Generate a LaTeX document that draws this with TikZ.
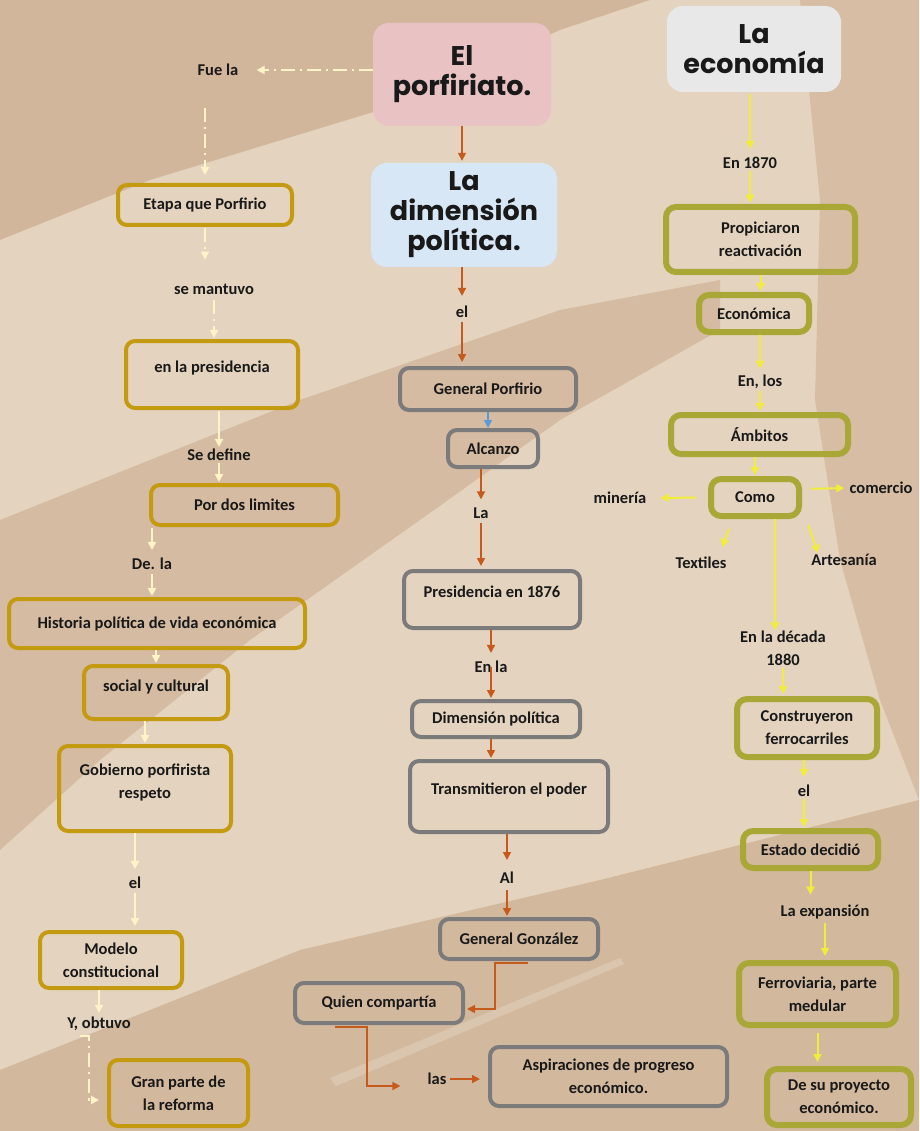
\documentclass[tikz,border=0pt]{standalone}
\usepackage{fontspec}
\setmainfont{Carlito}
\newfontfamily\titlefont{Poppins}
\usetikzlibrary{arrows.meta}
\definecolor{bgbase}{HTML}{E4D4BF}
\definecolor{bgdark}{HTML}{C5A384}
\definecolor{bgmid}{HTML}{D3B99C}
\definecolor{goldc}{HTML}{C49A10}
\definecolor{grayc}{HTML}{7B7B7B}
\definecolor{olivec}{HTML}{A9A735}
\definecolor{yarr}{HTML}{F2EC3A}
\definecolor{carr}{HTML}{FFF3C8}
\definecolor{oarr}{HTML}{C65A1C}
\definecolor{barr}{HTML}{5B9BD5}
\definecolor{pinkc}{HTML}{E9C3C3}
\definecolor{bluec}{HTML}{D8E7F5}
\definecolor{marble}{HTML}{E8E8E8}
\tikzset{
  every node/.style={font=\fontsize{16.5}{23}\selectfont\bfseries, text=black!90, align=center},
  gbox/.style={draw=goldc, line width=4pt, rounded corners=9pt, inner sep=0pt},
  ybox/.style={draw=grayc, line width=4pt, rounded corners=9pt, inner sep=0pt},
  obox/.style={draw=olivec, line width=6pt, rounded corners=10pt, inner sep=0pt},
  tbox/.style={rounded corners=16pt, inner sep=0pt, font=\titlefont\fontsize{27}{30}\selectfont\bfseries},
  lbl/.style={inner sep=2pt},
  raise/.style={text depth=#1},
  tip/.style={-{Triangle[length=8pt,width=8pt]}},
  ca/.style={tip, draw=carr, line width=2pt},
  cad/.style={ca, dash pattern=on 14pt off 5pt on 2pt off 5pt},
  oa/.style={tip, draw=oarr, line width=1.6pt},
  ba/.style={tip, draw=barr, line width=1.6pt},
  ya/.style={tip, draw=yarr, line width=2pt},
}
\begin{document}
\begin{tikzpicture}[x=1pt,y=-1pt]
% background
\fill[bgbase] (0,0) rectangle (919,1131);
\useasboundingbox (0,0) rectangle (919,1131);
\fill[bgdark, opacity=0.6] (0,0) -- (650,0) -- (560,30) -- (380,110) -- (150,180) -- (0,240) -- cycle;
\fill[bgdark, opacity=0.5] (0,520) -- (300,400) -- (560,310) -- (720,280) -- (720,330) -- (560,420) -- (420,520) -- (250,640) -- (100,760) -- (0,850) -- cycle;
\fill[bgdark, opacity=0.55] (0,1070) -- (300,950) -- (600,880) -- (919,800) -- (919,1131) -- (0,1131) -- cycle;
\fill[white, opacity=0.18] (330,1078) -- (620,958) -- (624,964) -- (336,1086) -- cycle;
\fill[bgdark, opacity=0.45] (800,0) -- (919,0) -- (919,800) -- (880,700) -- (840,560) -- (815,400) -- (820,200) -- (810,100) -- cycle;

% title boxes
\node[tbox, fill=pinkc, minimum width=178pt, minimum height=103pt] (porf) at (462,74.5) {El\\porfiriato.};
\node[tbox, fill=bluec, minimum width=186pt, minimum height=104pt] (dim) at (464,215) {La\\dimensión\\política.};
\node[tbox, fill=marble, minimum width=174pt, minimum height=86pt] (econT) at (754,49) {La\\economía};

% left column
\node[lbl] (fuela) at (218,70) {Fue la};
\node[gbox, minimum width=174pt, minimum height=40pt] (etapa) at (205,205) {Etapa que Porfirio};
\node[lbl] (mantuvo) at (214,289) {se mantuvo};
\node[gbox, raise=16pt, minimum width=172pt, minimum height=67pt] (presid) at (212,374.5) {en la presidencia};
\node[lbl] (define) at (219,455) {Se define};
\node[gbox, minimum width=187pt, minimum height=40pt] (limites) at (244.5,505) {Por dos limites};
\node[lbl] (dela) at (152,564) {De. la};
\node[gbox, minimum width=296pt, minimum height=49pt] (historia) at (157,623.5) {Historia política de vida económica};
\node[gbox, raise=14pt, minimum width=144pt, minimum height=53pt] (social) at (156,692.5) {social y cultural};
\node[gbox, raise=14pt, minimum width=172pt, minimum height=85pt] (gobierno) at (145,788.5) {Gobierno porfirista\\respeto};
\node[lbl] (el1) at (135,883) {el};
\node[gbox, minimum width=142pt, minimum height=56pt] (modelo) at (111,960) {Modelo\\constitucional};
\node[lbl] (obtuvo) at (99,1024) {Y, obtuvo};
\node[gbox, minimum width=139pt, minimum height=66pt] (gran) at (178.5,1093) {Gran parte de\\la reforma};

% middle column
\node[lbl] (elm) at (462,312) {el};
\node[ybox, minimum width=176pt, minimum height=42pt] (gporf) at (488,389) {General Porfirio};
\node[ybox, minimum width=90pt, minimum height=37pt] (alcanzo) at (493,448.5) {Alcanzo};
\node[lbl] (lam) at (481,513) {La};
\node[ybox, raise=16pt, minimum width=176pt, minimum height=57pt] (pres1876) at (492,599.5) {Presidencia en 1876};
\node[lbl] (enla) at (491,667) {En la};
\node[ybox, minimum width=168pt, minimum height=36pt] (dimpol) at (496,719) {Dimensión política};
\node[ybox, raise=15pt, minimum width=198pt, minimum height=71pt] (transm) at (509,796.5) {Transmitieron el poder};
\node[lbl] (al) at (507,878) {Al};
\node[ybox, minimum width=158pt, minimum height=40pt] (gonz) at (519,939) {General González};
\node[ybox, minimum width=168pt, minimum height=40pt] (quien) at (379,1003) {Quien compartía};
\node[lbl] (las) at (437,1079) {las};
\node[ybox, minimum width=237pt, minimum height=59pt] (aspir) at (608.5,1076.5) {Aspiraciones de progreso\\económico.};

% right column
\node[lbl] (en1870) at (750,163) {En 1870};
\node[obox, minimum width=189pt, minimum height=65pt] (propic) at (760.5,239.5) {Propiciaron\\reactivación};
\node[obox, minimum width=110pt, minimum height=37pt] (econ) at (754,313.5) {Económica};
\node[lbl] (enlos) at (760,382) {En, los};
\node[obox, minimum width=177pt, minimum height=39pt] (ambitos) at (759.5,434.5) {Ámbitos};
\node[obox, minimum width=88pt, minimum height=37pt] (como) at (755,497.5) {Como};
\node[lbl] (mineria) at (620,498) {minería};
\node[lbl] (comercio) at (881,488) {comercio};
\node[lbl] (textiles) at (701,563) {Textiles};
\node[lbl] (artesania) at (844,560) {Artesanía};
\node[lbl] (decada) at (783,648) {En la década\\1880};
\node[obox, minimum width=140pt, minimum height=58pt] (constr) at (807,728) {Construyeron\\ferrocarriles};
\node[lbl] (elr) at (804,791) {el};
\node[obox, minimum width=135pt, minimum height=37pt] (estado) at (810.5,849.5) {Estado decidió};
\node[lbl] (expansion) at (825,912) {La expansión};
\node[obox, minimum width=157pt, minimum height=62pt] (ferro) at (817.5,994) {Ferroviaria, parte\\medular};
\node[obox, minimum width=144pt, minimum height=56pt] (desu) at (839,1097) {De su proyecto\\económico.};
\coordinate (dcx) at (775,0);

% left arrows
\draw[cad, shorten >=16pt] (porf.west |- fuela) -- (fuela.east);
\draw[cad, shorten <=30pt, shorten >=8pt] (fuela.south -| etapa) -- (etapa.north);
\draw[cad, shorten <=1pt, shorten >=22pt] (etapa.south) -- (etapa.south |- mantuvo.north);
\draw[cad, shorten <=4pt, shorten >=1pt] (mantuvo.south) -- (mantuvo.south |- presid.north);
\draw[ca, shorten <=1pt, shorten >=0pt] (presid.south -| define) -- (define.north);
\draw[ca, shorten >=1pt] (define.south) -- (define.south |- limites.north);
\draw[ca, shorten <=1pt, shorten >=6pt] (limites.south -| dela) -- (dela.north);
\draw[ca, shorten <=2pt, shorten >=1pt] (dela.south) -- (dela.south |- historia.north);
\draw[ca, shorten >=1pt] (historia.south -| social) -- (social.north);
\draw[ca, shorten >=1pt] (social.south -| gobierno) -- (gobierno.north);
\draw[ca, shorten >=6pt] (gobierno.south -| el1) -- (el1.north);
\draw[ca, shorten <=2pt, shorten >=4pt] (el1.south) -- (el1.south |- modelo.north);
\draw[ca, shorten >=2pt] (modelo.south -| obtuvo) -- (obtuvo.north);
\draw[cad, shorten >=8pt] ([xshift=-19pt,yshift=-3pt]obtuvo.south) -- ++(9,0) |- ([yshift=-7pt]gran.west);

% middle arrows
\draw[oa, shorten >=2pt] (porf.south) -- (porf.south |- dim.north);
\draw[oa, shorten >=8pt] (dim.south -| elm) -- (elm.north);
\draw[oa, shorten <=2pt, shorten >=4pt] (elm.south) -- (elm.south |- gporf.north);
\draw[ba] (gporf.south) -- (gporf.south |- alcanzo.north);
\draw[oa, shorten >=6pt] (alcanzo.south -| lam) -- (lam.north);
\draw[oa, shorten <=2pt, shorten >=3pt] (lam.south) -- (lam.south |- pres1876.north);
\draw[oa, shorten >=6pt] (pres1876.south -| enla) -- (enla.north);
\draw[oa, shorten <=-8pt, shorten >=1pt] (enla.south) -- (enla.south |- dimpol.north);
\draw[oa, shorten >=1pt] (dimpol.south -| enla) -- (enla |- transm.north);
\draw[oa, shorten >=10pt] (transm.south -| al) -- (al.north);
\draw[oa, shorten <=4pt, shorten >=1pt] (al.south) -- (al.south |- gonz.north);
\draw[oa, shorten >=1pt] ([xshift=9pt,yshift=-2pt]gonz.south) -- ++(-33,0) |- ([yshift=-6pt,xshift=1pt]quien.east);
\draw[oa, shorten >=25pt] ([xshift=-44pt,yshift=-2pt]quien.south) -- ++(32,0) |- ([yshift=-7pt]las.west);
\draw[oa, shorten <=1pt, shorten >=8pt] (las.east) -- (las.east -| aspir.west);

% right arrows
\draw[ya, shorten <=2pt, shorten >=6pt] (econT.south -| en1870) -- (en1870.north);
\draw[ya, shorten >=1pt] (en1870.south) -- (en1870.south |- propic.north);
\draw[ya, shorten >=1pt] (propic.south) -- (propic.south |- econ.north);
\draw[ya, shorten >=4pt] (econ.south -| enlos) -- (enlos.north);
\draw[ya, shorten >=1pt] (enlos.south) -- (enlos.south |- ambitos.north);
\draw[ya, shorten >=1pt] (ambitos.south -| como) -- (como.north);
\draw[ya, shorten <=12pt, shorten >=12pt] (como.west) -- (mineria.east);
\draw[ya, shorten <=9pt, shorten >=3pt] ([yshift=8.5pt]como.east) -- (comercio.west);
\draw[ya] ([xshift=-26pt,yshift=-10pt]como.south) -- ++(-7,18);
\draw[ya] ([xshift=53pt,yshift=-6pt]como.south) -- ++(10,28);
\draw[ya, shorten >=-2pt] (como.south -| dcx) -- (decada.north -| dcx);
\draw[ya, shorten >=2pt] (decada.south) -- (decada.south |- constr.north);
\draw[ya, shorten >=6pt] (constr.south -| elr) -- (elr.north);
\draw[ya, shorten >=1pt] (elr.south) -- (elr.south |- estado.north);
\draw[ya, shorten >=8pt] (estado.south) -- (estado.south |- expansion.north);
\draw[ya, shorten <=2pt, shorten >=4pt] (expansion.south) -- (expansion.south |- ferro.north);
\draw[ya, shorten <=5pt, shorten >=4pt] (ferro.south) -- (ferro.south |- desu.north);
\end{tikzpicture}
\end{document}
